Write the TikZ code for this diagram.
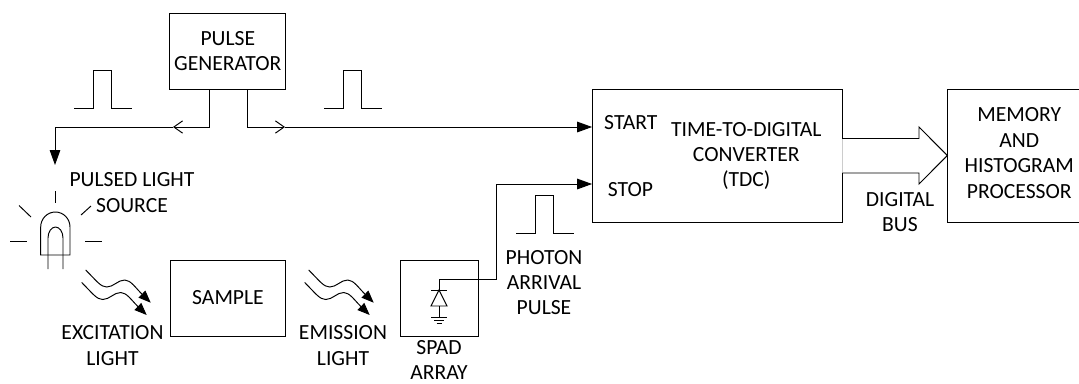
\documentclass[tikz,border=0pt]{standalone}
\usepackage{fontspec}
\setmainfont{Carlito}
\usetikzlibrary{arrows.meta}

\begin{document}
\begin{tikzpicture}[
  x=0.02cm, y=-0.02cm,
  line width=0.55pt,
  >={Triangle[length=8.5pt,width=6pt]},
  every node/.style={font=\fontsize{12.3}{14.45}\selectfont, inner sep=0pt, align=center},
  block/.style={draw, minimum width=#1*0.02cm},
  opentip/.style={-{Straight Barb[length=5pt,width=7pt]}},
  wave/.pic={
    \draw[-{Triangle[length=7pt,width=5.5pt]}] (0,0) .. controls (11,11) and (15,17) .. (21,17)
      .. controls (28,17) and (32,10) .. (39,10) .. controls (45,10) and (50,18) .. (65,32.7);
    \draw[-{Triangle[length=7pt,width=5.5pt]}] (-4,12.5) .. controls (7,23.5) and (11,29.5) .. (17,29.5)
      .. controls (24,29.5) and (28,22.5) .. (35,22.5) .. controls (41,22.5) and (46,30.5) .. (61,45);
  },
  pulseshape/.pic={
    \draw (0,0) -- (19.5,0) -- (19.5,-38) -- (37.5,-38) -- (37.5,0) -- (58,0);
  }
]
  \clip (0,0) rectangle (1079,383);
  \useasboundingbox (0,0) rectangle (1079,383);

  \node[block=115.7, minimum height=76*0.02cm] (pulsegen) at (227.8,51) {PULSE\\GENERATOR};
  \node[block=115.4, minimum height=76*0.02cm] (sample) at (228,298) {SAMPLE};
  \node[block=77.8, minimum height=76*0.02cm] (spad) at (439.6,298) {};
  \node[block=249.4, minimum height=133*0.02cm] (tdc) at (717.3,155.5) {};
  \node[block=143, minimum height=133*0.02cm] (memory) at (1019.3,155.5) {};

  \node (memorytext) at (1019.3,153) {MEMORY\\AND\\HISTOGRAM\\PROCESSOR};
  \node (tdctext) at (746.3,156) {TIME-TO-DIGITAL\\CONVERTER\\(TDC)};
  \node (start) at (630.8,123) {START};
  \node (stop) at (630.5,190) {STOP};
  \node (ledlabel) at (132,192.5) {PULSED LIGHT\\SOURCE};
  \node (exlabel) at (112.5,345.5) {EXCITATION\\LIGHT};
  \node (emlabel) at (343,345.5) {EMISSION\\LIGHT};
  \node (spadlabel) at (439,360) {SPAD\\ARRAY};
  \node (photon) at (544,282.5) {PHOTON\\ARRIVAL\\PULSE};
  \node (buslabel) at (900,212) {DIGITAL\\BUS};

  \pic at (74,108) {pulseshape};
  \pic at (324,108) {pulseshape};
  \pic at (516,233.5) {pulseshape};

  \coordinate (genl) at (209,89);
  \coordinate (genr) at (247,89);
  \coordinate (midl) at (173,127);
  \coordinate (midr) at (285,127);
  \coordinate (ledtop) at (55,165);
  \coordinate (startin) at (tdc.west |- 0,127);
  \coordinate (stopin) at (tdc.west |- 0,184);
  \coordinate (diodetop) at (439,279);

  \draw[opentip] (genl) |- (midl);
  \draw[->] (midl) -- (55,127) -- (ledtop);
  \draw[opentip] (genr) |- (midr);
  \draw[->] (midr) -- (startin);
  \draw[->] (diodetop) -- (496.7,279) -- (496.7,184) -- (stopin);

  % led
  \draw (40.7,255) -- (40.7,227) arc[start angle=180, end angle=360, x radius=14.65, y radius=15] -- (70,255) -- cycle;
  \draw (48,269) -- (48,238) arc[start angle=180, end angle=360, x radius=7.5, y radius=11] -- (63,269);
  \draw (55,191) -- (55,203);
  \draw (19,205.5) -- (31,217);
  \draw (81,215) -- (91,206);
  \draw (10,241) -- (27,241);
  \draw (85,241) -- (102,241);

  \pic at (85.7,270) {wave};
  \pic at (308.7,270) {wave};

  % diode
  \draw (diodetop) -- (439,290);
  \draw (431,290) -- (447,290);
  \draw (439,290) -- (431,306) -- (447,306) -- cycle;
  \draw (439,306) -- (439,317);
  \draw (431,317) -- (447,317);
  \draw (434,320) -- (444,320);
  \draw (436.5,323) -- (441.5,323);

  % bus
  \coordinate (busa) at (tdc.east |- 0,138.5);
  \coordinate (busb) at (tdc.east |- 0,173);
  \draw[gray!40,line width=0.8pt] (busa) -- (busb);
  \draw (busa) -- (919,138.5) -- (919,127) -- (memory.west |- tdc.east) -- (919,184) -- (919,173) -- (busb);
\end{tikzpicture}
\end{document}
